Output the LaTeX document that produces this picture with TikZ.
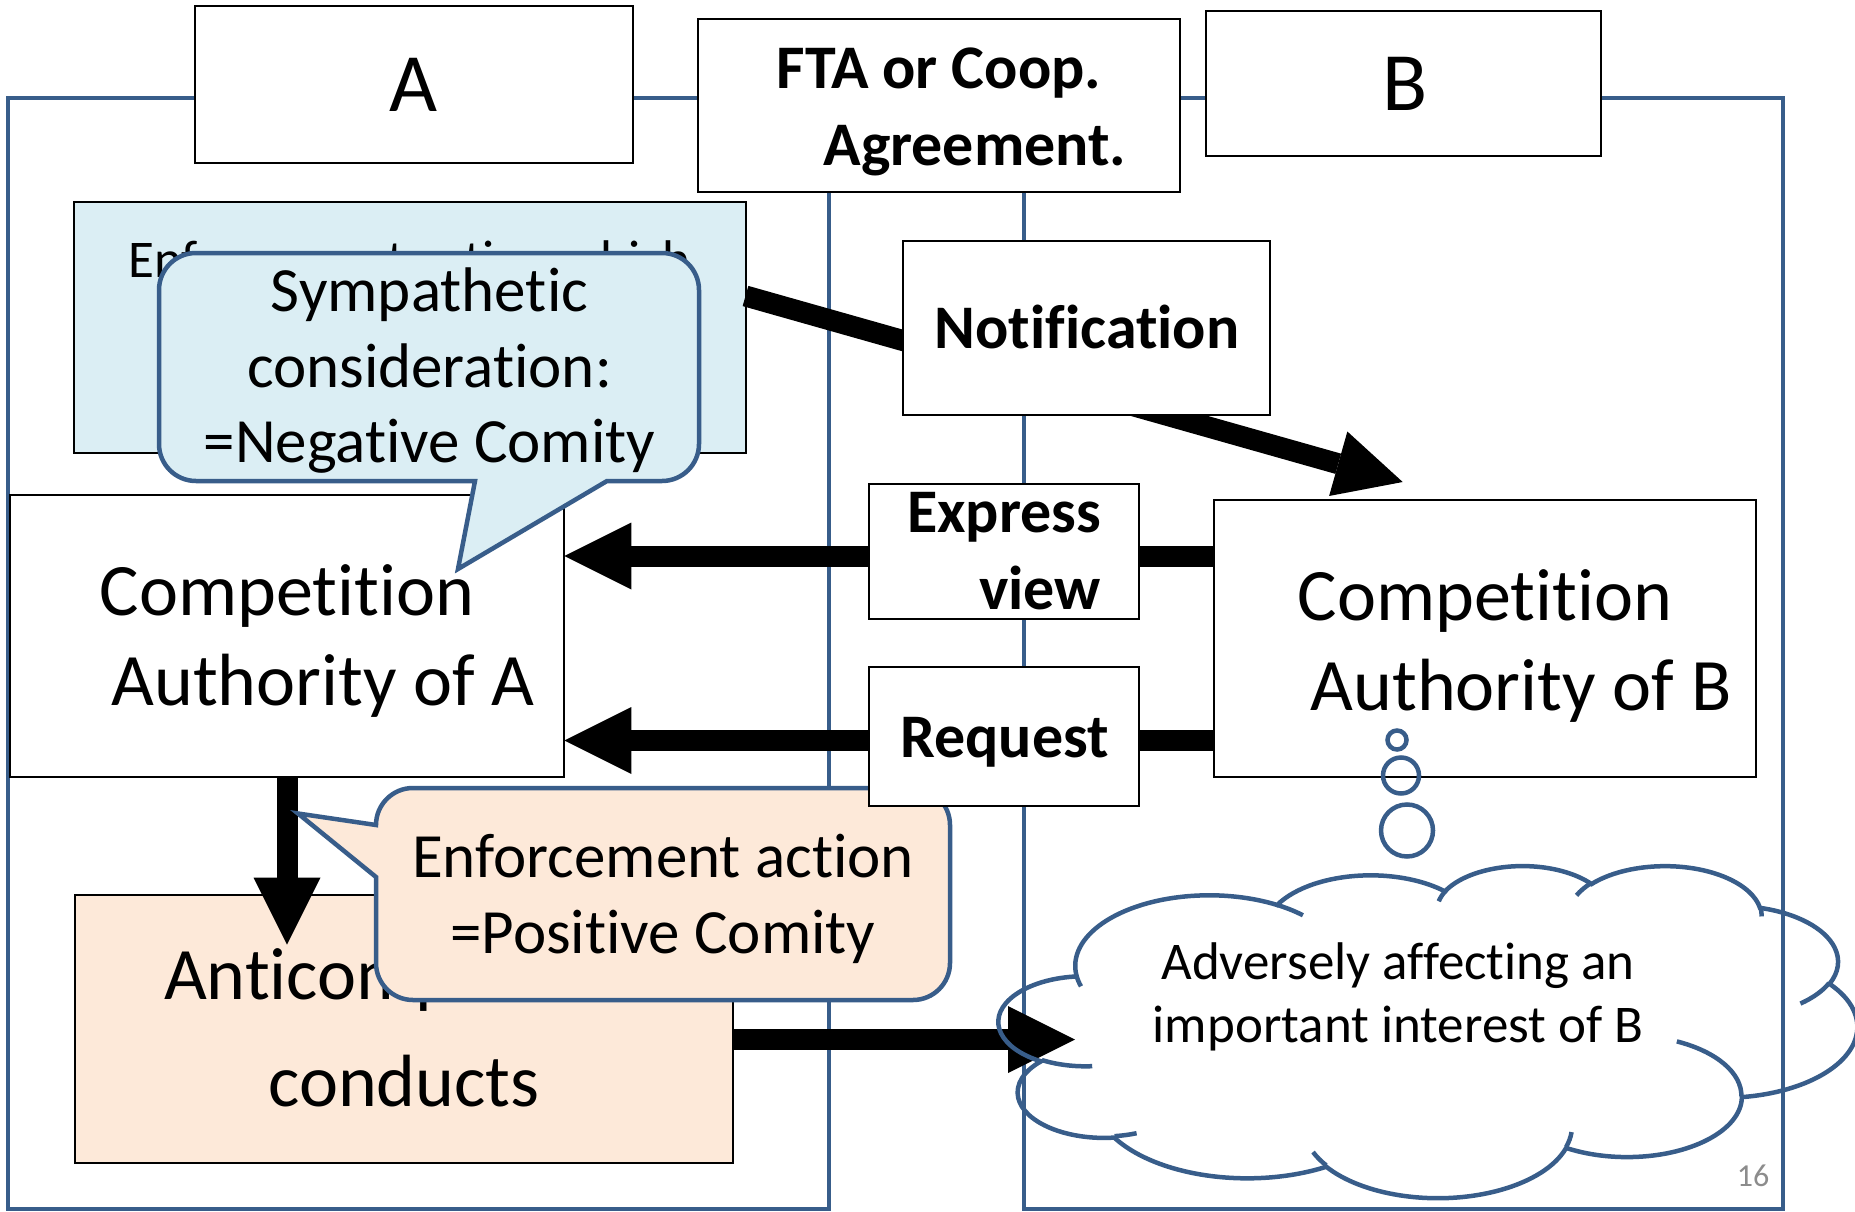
\documentclass[tikz,border=0pt]{standalone}
\usepackage{fontspec}
\setmainfont{Carlito}[Ligatures={TeX,NoCommon}]
\usetikzlibrary{arrows.meta,fit,calc}

\definecolor{frameblue}{HTML}{385D8A}
\definecolor{paleblue}{HTML}{DBEEF4}
\definecolor{palepeach}{HTML}{FDE9D9}
\definecolor{pagenum}{HTML}{8C8C8C}

\begin{document}
\begin{tikzpicture}[x=1pt, y=-1pt,
  zone/.style={draw=frameblue, line width=4.5pt},
  box/.style={draw=black, line width=2pt, fill=white, inner sep=0pt, outer sep=0pt},
  fat/.style={draw=black, line width=21pt, -{Triangle[length=67pt, width=67pt, line width=0pt]}},
  txt/.style={anchor=base, inner sep=0pt, text=black},
  boldlbl/.style={font=\fontsize{62}{77}\selectfont\bfseries},
  biglbl/.style={font=\fontsize{83}{100}\selectfont},
  authlbl/.style={font=\fontsize{74}{90}\selectfont},
  calloutlbl/.style={font=\fontsize{63}{75.6}\selectfont},
  cloudlbl/.style={font=\fontsize{53}{63.4}\selectfont},
]
\useasboundingbox (0,0) rectangle (1855,1212);

% the two jurisdictions
\draw[zone] (8,98) rectangle (829,1209);
\draw[zone] (1024,98) rectangle (1783,1209);

% header boxes
\node[box, fit={(194.5,5.7) (633,162.7)}] (hdrA) {};
\node[box, fit={(698,19) (1179.5,192)}] (hdrFTA) {};
\node[box, fit={(1206,10.7) (1601,155.7)}] (hdrB) {};
\node[txt, biglbl] (hdrAlbl) at (414,112) {A};
\node[txt, biglbl] (hdrBlbl) at (1405,111) {B};
\node[txt, boldlbl] (hdrFTAlbl) at (939,88.3)
  {\begin{tabular}[t]{@{}c@{}}FTA or Coop.\\\hspace*{72pt}Agreement.\end{tabular}};

% enforcement action box (mostly hidden by the callout)
\node[box, fill=paleblue, fit={(74,202) (745.5,453)}] (enf) {};
\node[anchor=base west, inner sep=0pt, font=\fontsize{53}{64}\selectfont] (enflbl) at (128,277.5)
  {Enforcement action which};

% competition authorities
\node[box, fit={(9.6,494.7) (564.4,776.5)}] (authA) {};
\node[txt, authlbl] (authAlbl) at (287,615)
  {\begin{tabular}[t]{@{}c@{}}Competition\\\hspace*{72pt}Authority of A\end{tabular}};
\node[box, fit={(1213.7,499.6) (1756,776.5)}] (authB) {};
\node[txt, authlbl] (authBlbl) at (1485,620)
  {\begin{tabular}[t]{@{}c@{}}Competition\\\hspace*{72pt}Authority of B\end{tabular}};

% notification
\draw[fat] ($(enf.east)+(0,-31.5)$) -- ($(authB.north west)+(189,-17.6)$);
\node[box, fit={(903,240.7) (1270,415)}] (notif) {};
\node[txt, boldlbl] (notiflbl) at (1087,348.3) {Notification};

% anticompetitive conducts
\node[box, fill=palepeach, fit={(74.6,894.6) (733.4,1162.8)}] (anti) {};
\node[txt, authlbl] (antilbl) at (404,999)
  {\begin{tabular}[t]{@{}c@{}}Anticompetitive\\[17pt]conducts\end{tabular}};

\coordinate (antitop) at ($(anti.north -| authA.south)+(0,50)$);
\draw[fat] (authA.south) -- (antitop);
\coordinate (cloudin) at (1075,1039.5);
\draw[fat] (anti.east |- cloudin) -- (cloudin);

% positive comity callout
\draw[zone, fill=palepeach] (413,788) -- (913,788)
  arc[start angle=-90, end angle=0, radius=37] -- (950,963)
  arc[start angle=0, end angle=90, radius=37] -- (413,1000)
  arc[start angle=90, end angle=180, radius=37] -- (376,877) -- (298,813.5) -- (376,825)
  arc[start angle=180, end angle=270, radius=37] -- cycle;
\node[txt, calloutlbl] (poslbl) at (663,877.6)
  {\begin{tabular}[t]{@{}c@{}}Enforcement action\\=Positive Comity\end{tabular}};

% express view / request
\draw[fat] (authB.west |- 0,556) -- (authA.east |- 0,556);
\draw[fat] (authB.west |- 0,740.5) -- (authA.east |- 0,740.5);
\node[box, fit={(868.6,484) (1139,618.6)}] (expr) {};
\node[txt, boldlbl] (exprlbl) at (1004,532.6)
  {\begin{tabular}[t]{@{}c@{}}Express\\\hspace*{72pt}view\end{tabular}};
\node[box, fit={(868.6,667) (1139,805.7)}] (req) {};
\node[txt, boldlbl] (reqlbl) at (1004.5,757) {Request};

% thought cloud
\begin{scope}[shift={(999,865)}, x=19.861pt, y=-7.685pt]
  \draw[zone] (3.900,14.370)
    \foreach \w/\h/\s/\d in {
      6.753/9.190/-190.48748/123.78053,
      5.333/7.267/-144.10238/89.94523,
      4.365/5.945/-145.80792/99.72302,
      4.857/6.595/-130.98607/117.24173,
      5.333/7.273/-78.70888/109.02692,
      6.775/9.220/-46.26725/130.269,
      5.785/7.867/0.62502/114.03333,
      6.752/9.215/22.4516/115.17255,
      7.720/10.543/66.24263/75.71102,
      4.360/5.918/-274.94208/146.73557,
      4.345/5.945/-246.8285/152.51885}
    { arc[x radius=\w, y radius=\h,
          start angle={atan2(\w*sin(\s),\h*cos(\s))},
          delta angle={mod(atan2(\w*sin(\s+\d),\h*cos(\s+\d))-atan2(\w*sin(\s),\h*cos(\s))+720,360)}] }
    -- cycle;
  \draw[zone]
    \foreach \px/\py/\w/\h/\s/\d in {
      4.693/26.177/4.345/5.945/86.742/26.4295,
      6.928/34.899/4.360/5.918/73.61047/11.44747,
      16.478/39.090/6.752/9.215/137.62415/14.0811,
      28.827/34.751/6.752/9.215/6.45327/15.99835,
      34.129/22.954/5.785/7.867/-70.29235/70.91737,
      41.798/15.354/5.333/7.273/30.31803/27.7515,
      38.324/5.426/4.857/6.595/-13.74433/14.85375,
      29.078/3.952/4.857/6.595/-149.18145/18.19537,
      22.141/4.720/4.365/5.945/-163.49427/17.68635,
      14.000/5.192/6.753/9.190/-66.70695/12.31935,
      4.127/15.789/6.753/9.190/157.65435/11.85817}
    { (\px,\py) arc[x radius=\w, y radius=\h,
          start angle={atan2(\w*sin(\s),\h*cos(\s))},
          delta angle={mod(atan2(\w*sin(\s+\d),\h*cos(\s+\d))-atan2(\w*sin(\s),\h*cos(\s))+720,360)}] };
\end{scope}
\node[txt, cloudlbl] (cloudlbl) at (1398,979.3)
  {\begin{tabular}[t]{@{}c@{}}Adversely affecting an\\important interest of B\end{tabular}};

% thought bubbles
\draw[zone] (1397,740) circle[radius=9.5];
\draw[zone] (1401,775.5) circle[radius=18];
\draw[zone] (1407,830.5) circle[radius=26];

% negative comity callout
\draw[zone, fill=paleblue] (196,253) -- (662,253)
  arc[start angle=-90, end angle=0, radius=37] -- (699,444)
  arc[start angle=0, end angle=90, radius=37] -- (607,481) -- (458,569) -- (475,481) -- (196,481)
  arc[start angle=90, end angle=180, radius=37] -- (159,290)
  arc[start angle=180, end angle=270, radius=37] -- cycle;
\node[txt, calloutlbl] (neglbl) at (429.5,311.7)
  {\begin{tabular}[t]{@{}c@{}}Sympathetic\\consideration:\\=Negative Comity\end{tabular}};

% slide number
\node[txt, font=\fontsize{32}{38}\selectfont, text=pagenum] (pgno) at (1753,1186) {16};
\end{tikzpicture}
\end{document}
